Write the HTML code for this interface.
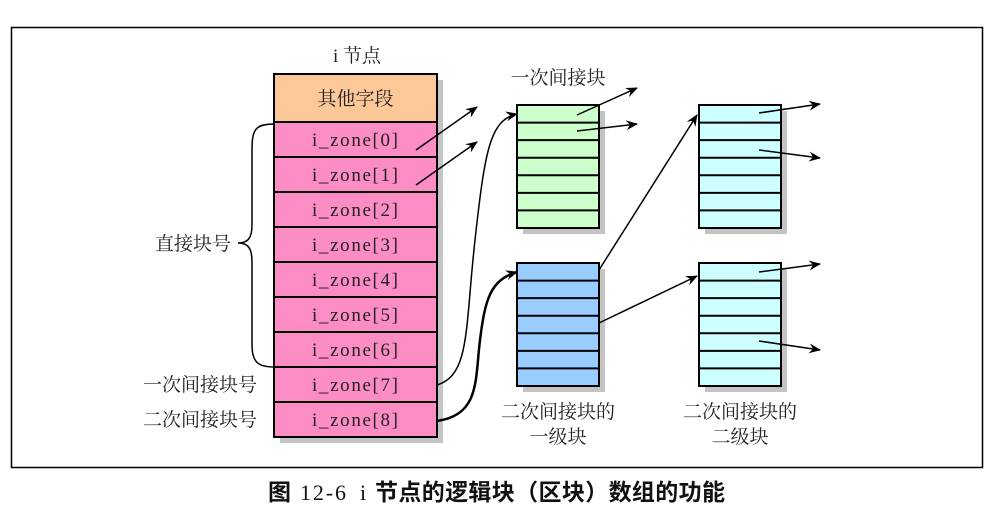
<!DOCTYPE html>
<html><head><meta charset="utf-8"><style>
body{margin:0;background:#fff;}
svg text{font-family:"Liberation Serif","Noto Serif CJK SC",serif;font-size:19px;fill:#222;}
</style></head><body>
<svg width="994" height="516" viewBox="0 0 994 516" xmlns="http://www.w3.org/2000/svg">
<defs><marker id="a" markerWidth="12" markerHeight="10" refX="11" refY="5" orient="auto" markerUnits="userSpaceOnUse"><path d="M0,0 L12,5 L0,10 L4,5 Z" fill="#000"/></marker></defs>
<rect x="11.5" y="27.5" width="971" height="440" fill="none" stroke="#000" stroke-width="1.5"/>
<rect x="280" y="80" width="163" height="363" fill="#c4c4c4"/>
<rect x="274" y="74" width="163" height="48" fill="#fdc898" stroke="#000" stroke-width="2"/>
<text x="355.5" y="105" text-anchor="middle">其他字段</text>
<g stroke="#000" stroke-width="2" fill="#fb8cc4">
<rect x="274" y="122" width="163" height="35"/><rect x="274" y="157" width="163" height="35"/><rect x="274" y="192" width="163" height="35"/><rect x="274" y="227" width="163" height="35"/><rect x="274" y="262" width="163" height="35"/><rect x="274" y="297" width="163" height="35"/><rect x="274" y="332" width="163" height="35"/><rect x="274" y="367" width="163" height="35"/><rect x="274" y="402" width="163" height="35"/>
</g>
<g>
<text x="312" y="146" textLength="86" lengthAdjust="spacing">i_zone[0]</text>
<text x="312" y="181" textLength="86" lengthAdjust="spacing">i_zone[1]</text>
<text x="312" y="216" textLength="86" lengthAdjust="spacing">i_zone[2]</text>
<text x="312" y="251" textLength="86" lengthAdjust="spacing">i_zone[3]</text>
<text x="312" y="286" textLength="86" lengthAdjust="spacing">i_zone[4]</text>
<text x="312" y="321" textLength="86" lengthAdjust="spacing">i_zone[5]</text>
<text x="312" y="356" textLength="86" lengthAdjust="spacing">i_zone[6]</text>
<text x="312" y="391" textLength="86" lengthAdjust="spacing">i_zone[7]</text>
<text x="312" y="426" textLength="86" lengthAdjust="spacing">i_zone[8]</text>
</g>
<g text-anchor="middle">
<text x="357" y="62">i 节点</text>
<text x="558" y="84">一次间接块</text>
<text x="558" y="418">二次间接块的</text><text x="558" y="443">一级块</text>
<text x="740" y="418">二次间接块的</text><text x="740" y="443">二级块</text>
</g>
<text x="155" y="250">直接块号</text>
<text x="143" y="391">一次间接块号</text>
<text x="143" y="426">二次间接块号</text>
<path d="M274,124 C255,124 252,130 252,150 L252,225 C252,238 248,243 238,243 C248,243 252,248 252,262 L252,345 C252,362 258,367 274,367" fill="none" stroke="#000" stroke-width="1.5"/>
<g>
<rect x="523" y="111" width="82" height="123" fill="#c4c4c4"/>
<rect x="517" y="105" width="82" height="123" fill="#ccffcc" stroke="#000" stroke-width="2"/>
<path d="M517,122.6H599M517,140.1H599M517,157.7H599M517,175.3H599M517,192.9H599M517,210.4H599" stroke="#000" stroke-width="2"/>
<rect x="523" y="269" width="82" height="123" fill="#c4c4c4"/>
<rect x="517" y="263" width="82" height="123" fill="#99ccff" stroke="#000" stroke-width="2"/>
<path d="M517,280.6H599M517,298.1H599M517,315.7H599M517,333.3H599M517,350.9H599M517,368.4H599" stroke="#000" stroke-width="2"/>
<rect x="705" y="111" width="82" height="123" fill="#c4c4c4"/>
<rect x="699" y="105" width="82" height="123" fill="#ccffff" stroke="#000" stroke-width="2"/>
<path d="M699,122.6H781M699,140.1H781M699,157.7H781M699,175.3H781M699,192.9H781M699,210.4H781" stroke="#000" stroke-width="2"/>
<rect x="705" y="269" width="82" height="123" fill="#c4c4c4"/>
<rect x="699" y="263" width="82" height="123" fill="#ccffff" stroke="#000" stroke-width="2"/>
<path d="M699,280.6H781M699,298.1H781M699,315.7H781M699,333.3H781M699,350.9H781M699,368.4H781" stroke="#000" stroke-width="2"/>
</g>
<g stroke="#000" stroke-width="1.5" fill="none" marker-end="url(#a)">
<line x1="416" y1="150" x2="477" y2="107"/>
<line x1="416" y1="185" x2="477" y2="142"/>
<line x1="577" y1="115" x2="637" y2="88"/>
<line x1="577" y1="131" x2="637" y2="124"/>
<path d="M437,385 C470,375 465,330 475,240 C485,150 490,120 517,114"/>
<path d="M437,421 C480,415 475,380 480,340 C485,300 490,280 517,272" stroke-width="2.5"/>
<line x1="599" y1="270" x2="697" y2="115"/>
<line x1="599" y1="323" x2="697" y2="276"/>
<line x1="759" y1="113" x2="820" y2="104"/>
<line x1="759" y1="150" x2="820" y2="158"/>
<line x1="759" y1="272" x2="820" y2="264"/>
<line x1="759" y1="341" x2="820" y2="350"/>
</g>
<text x="268" y="500" style="font-size:23px;font-weight:bold;font-family:'Noto Sans CJK SC',sans-serif;fill:#111">图</text>
<text x="300" y="500" style="font-size:22px;fill:#111" textLength="46" lengthAdjust="spacing">12-6</text>
<text x="360" y="500" style="font-size:22px;fill:#111">i</text>
<text x="375" y="500" style="font-size:23px;font-weight:bold;font-family:'Noto Sans CJK SC',sans-serif;fill:#111" textLength="350" lengthAdjust="spacing">节点的逻辑块（区块）数组的功能</text>
</svg>
</body></html>
